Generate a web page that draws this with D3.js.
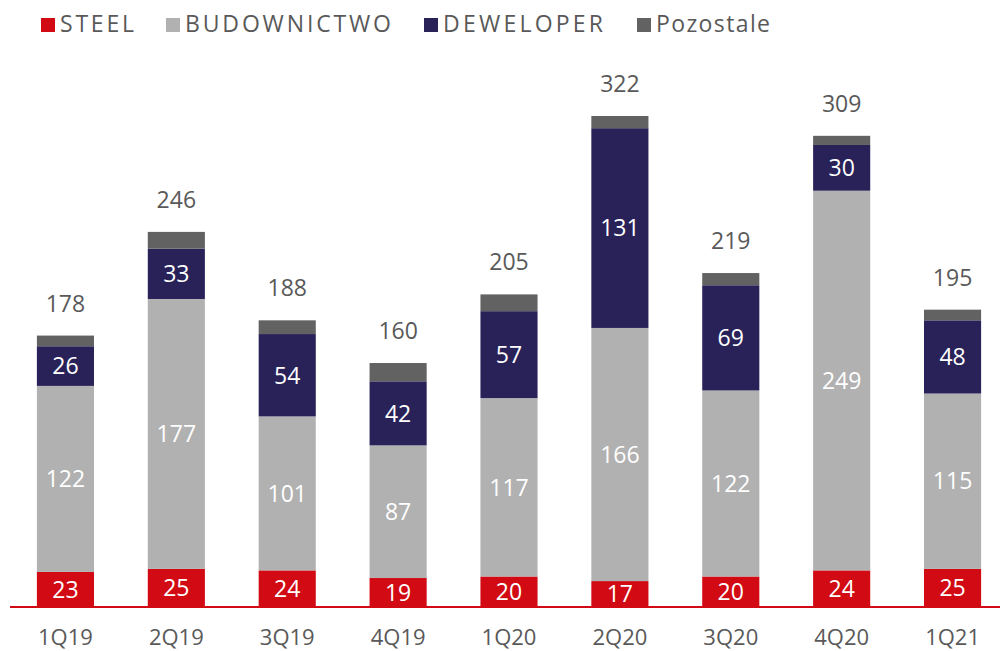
<!DOCTYPE html>
<html>
<head>
<meta charset="utf-8">
<script src="https://cdn.jsdelivr.net/npm/d3@7"></script>
<style>
  body { margin: 0; background: #fff; }
  svg { display: block; font-family: 'Open Sans', sans-serif; }
</style>
</head>
<body>
<div id="chart"></div>
<script>
'use strict';

const quarters = ['1Q19', '2Q19', '3Q19', '4Q19', '1Q20', '2Q20', '3Q20', '4Q20', '1Q21'];
const steel     = [23, 25, 24, 19, 20, 17, 20, 24, 25];
const budowa    = [122, 177, 101, 87, 117, 166, 122, 249, 115];
const deweloper = [26, 33, 54, 42, 57, 131, 69, 30, 48];
const pozostale = [7, 11, 9, 12, 11, 8, 8, 6, 7];
const totals    = [178, 246, 188, 160, 205, 322, 219, 309, 195];

const seriesNames  = ['STEEL', 'BUDOWNICTWO', 'DEWELOPER', 'Pozostale'];
const seriesColors = ['#d20a13', '#b1b1b1', '#282259', '#626262'];
const seriesKeys   = ['steel', 'budowa', 'deweloper', 'pozostale'];

const W = 1000, H = 651;

const rows = quarters.map((q, i) => ({
  q: q,
  steel: steel[i],
  budowa: budowa[i],
  deweloper: deweloper[i],
  pozostale: pozostale[i],
  total: totals[i]
}));

const stack = d3.stack().keys(seriesKeys)(rows);

const x = d3.scaleBand()
  .domain(quarters)
  .range([10, 1008])
  .paddingInner(0.485)
  .paddingOuter(0.2425);

const y = d3.scaleLinear()
  .domain([0, 322])
  .range([607, 116]);

const svg = d3.select('#chart')
  .append('svg')
  .attr('width', W)
  .attr('height', H);

// bars
const layers = svg.append('g').attr('id', 'bars')
  .selectAll('g')
  .data(stack)
  .enter()
  .append('g')
  .style('fill', (d, i) => seriesColors[i]);

layers.selectAll('rect')
  .data(d => d)
  .enter()
  .append('rect')
  .attr('x', d => x(d.data.q))
  .attr('y', d => y(d[1]))
  .attr('width', x.bandwidth())
  .attr('height', d => y(d[0]) - y(d[1]));

// labels inside segments (not for Pozostale)
const labelled = stack.slice(0, 3);
svg.append('g').attr('id', 'seglabels')
  .selectAll('g')
  .data(labelled)
  .enter()
  .append('g')
  .selectAll('text')
  .data(d => d)
  .enter()
  .append('text')
  .attr('x', d => x(d.data.q) + x.bandwidth() / 2)
  .attr('y', d => (y(d[0]) + y(d[1])) / 2)
  .attr('dy', '0.36em')
  .attr('text-anchor', 'middle')
  .style('fill', 'white')
  .style('font-size', '23px')
  .text(d => d[1] - d[0]);

// totals
svg.append('g').attr('id', 'totals')
  .selectAll('text')
  .data(rows)
  .enter()
  .append('text')
  .attr('x', d => x(d.q) + x.bandwidth() / 2)
  .attr('y', d => y(d.total) - 24)
  .attr('text-anchor', 'middle')
  .style('fill', '#595959')
  .style('font-size', '23px')
  .text(d => d.total);

// axis
const axis = svg.append('g')
  .attr('transform', `translate(0, ${y(0)})`)
  .call(d3.axisBottom(x).tickSize(0));
axis.select('.domain').remove();
axis.selectAll('text')
  .attr('y', 38)
  .attr('dy', 0)
  .style('font-family', "'Open Sans', sans-serif")
  .style('font-size', '22px')
  .style('fill', '#595959');
svg.append('line')
  .attr('x1', 10).attr('x2', 1000)
  .attr('y1', y(0)).attr('y2', y(0))
  .style('stroke', '#d20a13')
  .style('stroke-width', 2);

// legend
const legendX = [41, 166, 424, 637];
const legendW = [74, 206, 160, 114];
const legend = svg.append('g').attr('id', 'legend')
  .selectAll('g')
  .data(seriesNames)
  .enter()
  .append('g')
  .attr('transform', (d, i) => `translate(${legendX[i]}, 18)`);
legend.append('rect')
  .attr('width', 14).attr('height', 14)
  .style('fill', (d, i) => seriesColors[i]);
legend.append('text')
  .attr('x', 19)
  .attr('y', 14)
  .attr('textLength', (d, i) => legendW[i])
  .attr('lengthAdjust', 'spacing')
  .style('fill', '#595959')
  .style('font-size', '23px')
  .text(d => d);
</script>
</body>
</html>
